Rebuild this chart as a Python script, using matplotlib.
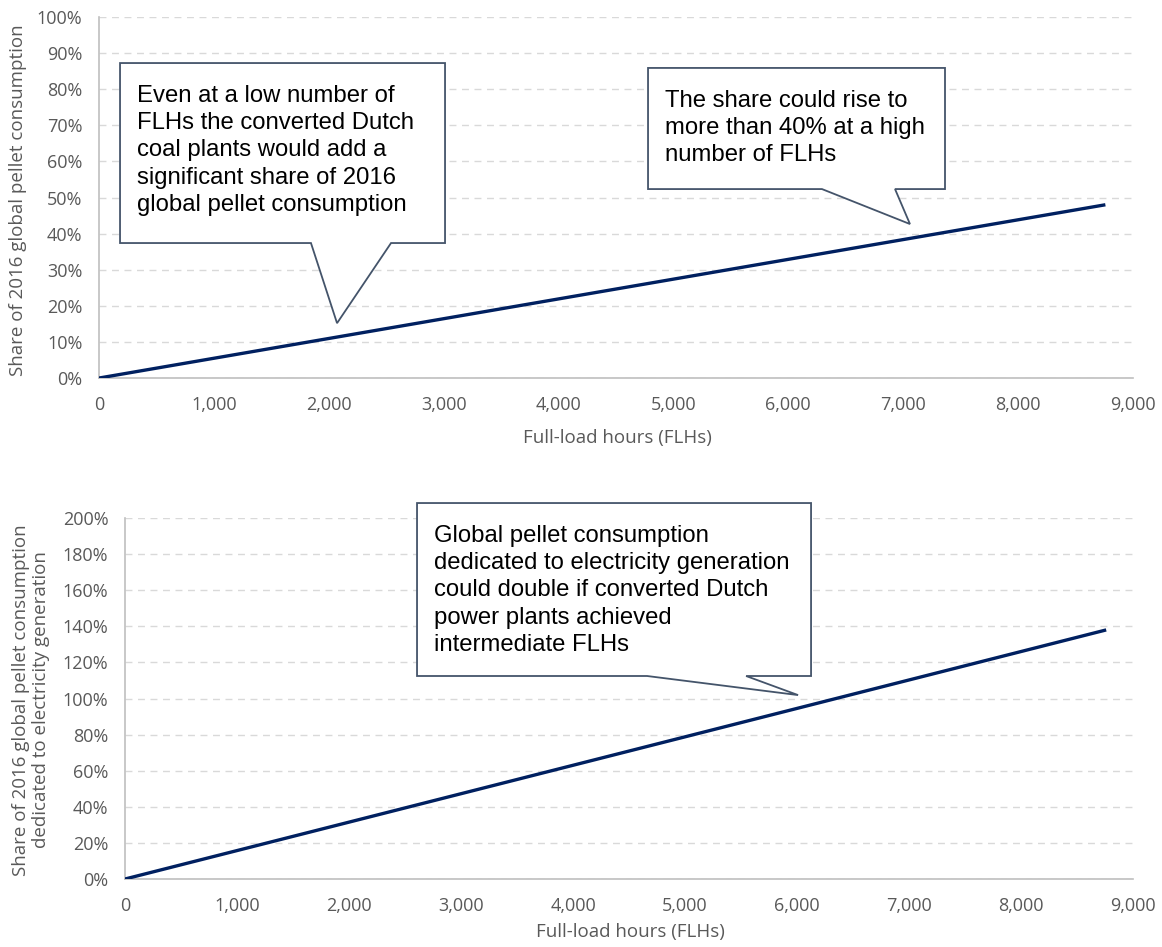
import matplotlib
matplotlib.use("Agg")
import matplotlib.pyplot as plt
from matplotlib.patches import Polygon
from matplotlib.ticker import FuncFormatter, MultipleLocator
from matplotlib.transforms import offset_copy

# Full-load hours and the resulting shares of 2016 global pellet consumption
flh = [0, 8760]
share_global = [0.0, 0.48]
share_electricity = [0.0, 1.38]

x_ticks = [0, 1000, 2000, 3000, 4000, 5000, 6000, 7000, 8000, 9000]

x_label = "Full-load hours (FLHs)"
y_label_top = "Share of 2016 global pellet consumption"
y_label_bottom = "Share of 2016 global pellet consumption\ndedicated to electricity generation"

note_top_left = ("Even at a low number of\nFLHs the converted Dutch\ncoal plants would add a\n"
                 "significant share of 2016\nglobal pellet consumption")
note_top_right = "The share could rise to\nmore than 40% at a high\nnumber of FLHs"
note_bottom = ("Global pellet consumption\ndedicated to electricity generation\ncould double if converted Dutch\n"
               "power plants achieved\nintermediate FLHs")

LINE = "#002060"
EDGE = "#44546A"
GRID = "#D9D9D9"
SPINE = "#BFBFBF"
TICK = "#595959"
TICK_FONT = ["Open Sans", "DejaVu Sans"]
NOTE_FONT = ["Liberation Sans", "DejaVu Sans"]

W, H = 1162, 947
fig = plt.figure(figsize=(W / 100, H / 100), dpi=100)
ax1 = fig.add_axes([0.0852, 0.6008, 0.8898, 0.3812])
ax2 = fig.add_axes([0.1076, 0.0718, 0.8675, 0.3812])


def style(ax, ymax, ystep):
    ax.set_xlim(0, 9000)
    ax.set_ylim(0, ymax)
    ax.set_xticks(x_ticks)
    ax.yaxis.set_major_locator(MultipleLocator(ystep))
    ax.xaxis.set_major_formatter(FuncFormatter(lambda v, p: f"{int(v):,}"))
    ax.yaxis.set_major_formatter(FuncFormatter(lambda v, p: f"{v * 100:.0f}%"))
    ax.grid(axis="y", color=GRID, linestyle=(0, (5, 4)), linewidth=1.0)
    ax.set_axisbelow(True)
    for s in ("top", "right"):
        ax.spines[s].set_visible(False)
    for s in ("left", "bottom"):
        ax.spines[s].set_color(SPINE)
        ax.spines[s].set_linewidth(1.2)
    ax.tick_params(length=0, labelcolor=TICK, labelsize=13)
    ax.tick_params(axis="x", pad=13)
    ax.tick_params(axis="y", pad=12)
    for lab in ax.get_xticklabels() + ax.get_yticklabels():
        lab.set_family(TICK_FONT)


def callout(ax, box, base, tip, text):
    x0, y0, x1, y1 = box  # left, bottom, right, top in data units
    bx0, bx1 = base
    pts = [(x0, y0), (x0, y1), (x1, y1), (x1, y0), (bx1, y0), tip, (bx0, y0)]
    ax.add_patch(Polygon(pts, closed=True, facecolor="white", edgecolor=EDGE,
                         linewidth=1.3, zorder=4, clip_on=False))
    tr = offset_copy(ax.transData, fig=fig, x=12, y=-16, units="points")
    ax.text(x0, y1, text, transform=tr, ha="left", va="top", fontsize=17.2,
            family=NOTE_FONT, color="black", linespacing=1.3, zorder=5)


def axis_titles(xc, xlabel_y, ylabel_x, ylabel_yc, ylabel):
    fig.text(xc / W, 1 - xlabel_y / H, x_label, ha="center", va="center",
             color=TICK, fontsize=13.5, family=TICK_FONT)
    fig.text(ylabel_x / W, 1 - ylabel_yc / H, ylabel, ha="center", va="center",
             rotation=90, multialignment="center", color=TICK, fontsize=13.5,
             family=TICK_FONT, linespacing=1.15)


style(ax1, 1.0, 0.1)
ax1.plot(flh, share_global, color=LINE, linewidth=2.4, solid_capstyle="butt", zorder=3)
callout(ax1, (183, 0.374, 3012, 0.8726), (1845, 2542), (2072, 0.152), note_top_left)
callout(ax1, (4779, 0.5235, 7364, 0.859), (6293, 6929), (7059, 0.4266), note_top_right)
axis_titles(617, 438, 18, 200, y_label_top)

style(ax2, 2.0, 0.2)
ax2.plot(flh, share_electricity, color=LINE, linewidth=2.4, solid_capstyle="butt", zorder=3)
callout(ax2, (2607, 1.1247, 6125, 2.083), (4661, 5545), (6009, 1.019), note_bottom)
axis_titles(630, 932, 31, 700, y_label_bottom)

fig.savefig("out.png", dpi=100)
